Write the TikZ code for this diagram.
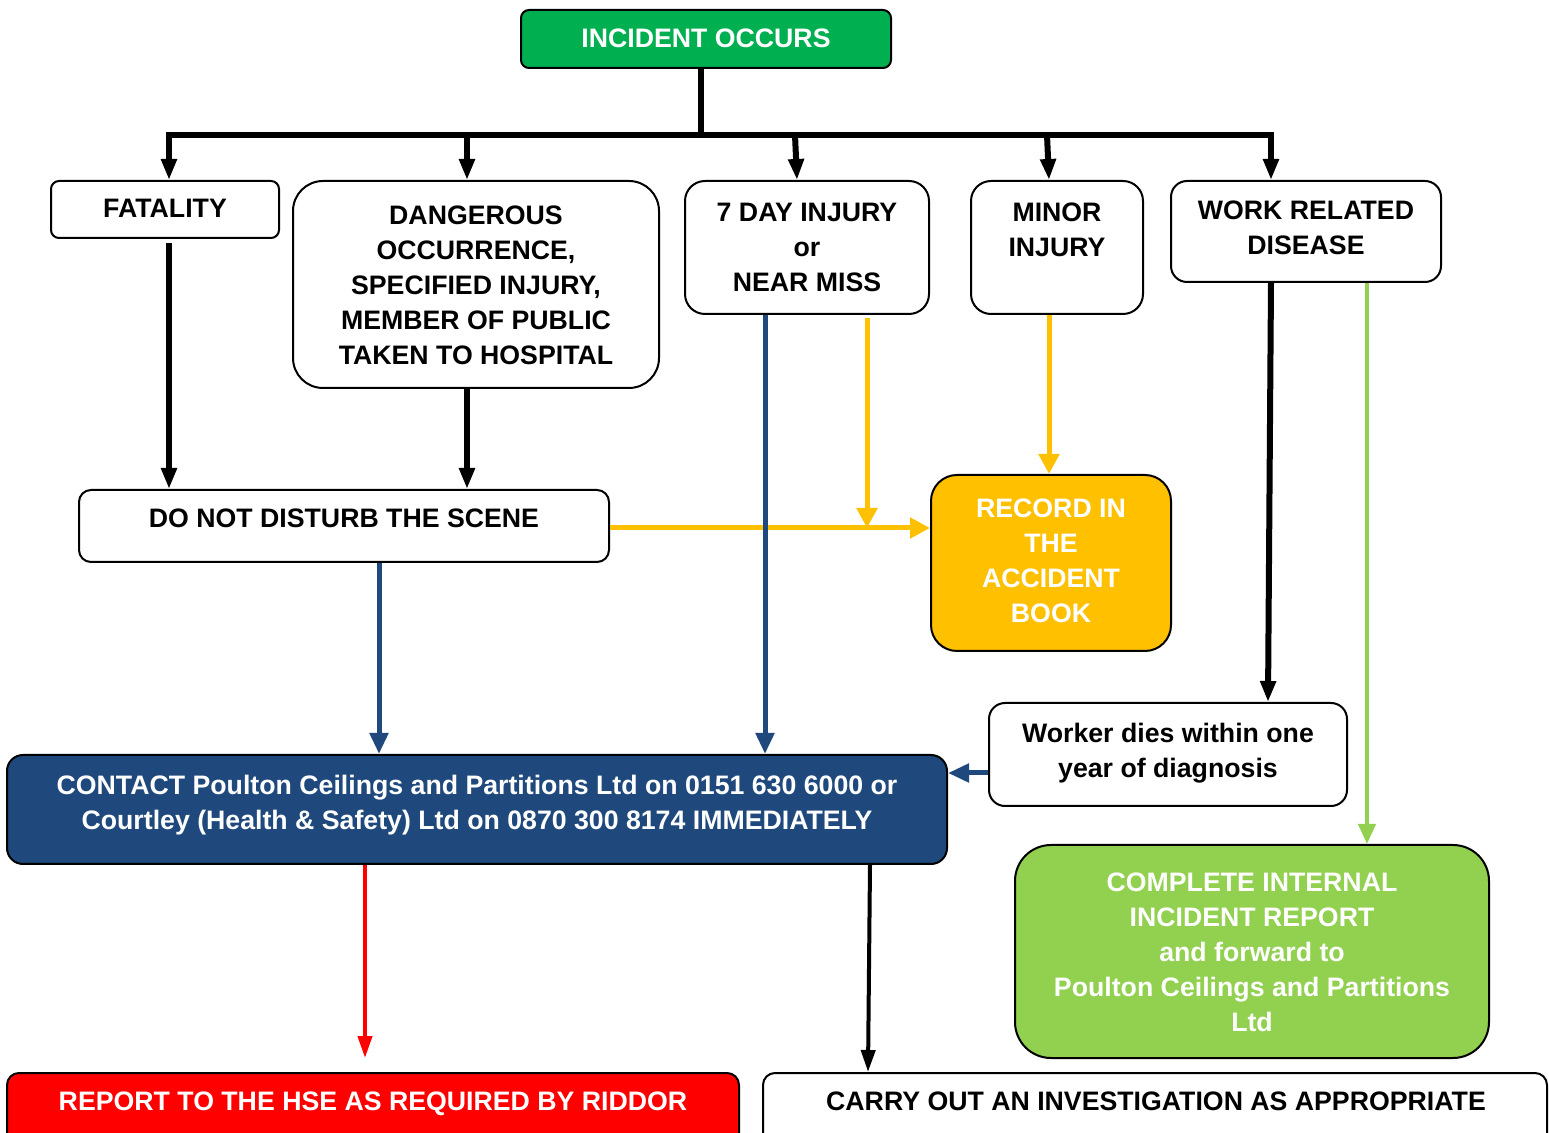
\documentclass[tikz,border=0pt]{standalone}
\usepackage{fontspec}
\setmainfont{Liberation Sans}
\usetikzlibrary{arrows.meta,fit}
\definecolor{incgreen}{HTML}{00B050}
\definecolor{amber}{HTML}{FFC000}
\definecolor{navy}{HTML}{1F497D}
\definecolor{lgreen}{HTML}{92D050}
\definecolor{hsered}{HTML}{FF0000}
\begin{document}
\begin{tikzpicture}[x=0.5pt,y=-0.5pt,
  box/.style={draw=black,line width=1pt,inner sep=0pt,rounded corners=#1},
  box/.default=4pt,
  txt/.style={inner sep=0pt,align=center,anchor=base,font=\bfseries\fontsize{13.35}{17.5}\selectfont},
  wtxt/.style={txt,text=white},
  blk/.style={line width=3pt,-{Triangle[width=7.5pt,length=10.5pt]}},
  ylw/.style={draw=amber,line width=2.5pt,-{Triangle[width=10pt,length=10pt]}},
  blu/.style={draw=navy,line width=2.5pt,-{Triangle[width=9pt,length=10.5pt]}},
  grn/.style={draw=lgreen,line width=2pt,-{Triangle[width=8.5pt,length=10pt]}},
  thin/.style={line width=2pt,-{Triangle[width=7pt,length=11pt]}},
]
\useasboundingbox (0,0) rectangle (1549,1133);
\clip (0,0) rectangle (1549,1133);
\fill[white] (0,0) rectangle (1549,1133);

% boxes
\node[box,fill=incgreen,fit={(521,10) (891,68)}] (inc) {};
\node[box,fit={(51,181) (279,238)}] (fat) {};
\node[box=15pt,fit={(293,181) (659,388)}] (dang) {};
\node[box=10pt,fit={(685,181) (929,314)}] (seven) {};
\node[box=10pt,fit={(971,181) (1143,314)}] (minor) {};
\node[box=8pt,fit={(1171,181) (1441,282)}] (work) {};
\node[box=6pt,fit={(79,490) (609,562)}] (dnd) {};
\node[box=13pt,fill=amber,fit={(931,475) (1171,651)}] (rec) {};
\node[box=8pt,fit={(989,703) (1347,806)}] (wdies) {};
\node[box=8pt,fill=navy,fit={(7,755) (947,864)}] (contact) {};
\node[box=18pt,fill=lgreen,fit={(1015,845) (1489,1058)}] (complete) {};
\node[box=6pt,fill=hsered,fit={(7,1073) (739,1160)}] (hse) {};
\node[box=6pt,fit={(763,1073) (1547,1160)}] (carry) {};

% texts (anchor=base is the baseline of the last line)
\node[wtxt] (incT) at (706,48) {INCIDENT OCCURS};
\node[txt] (fatT) at (165,218) {FATALITY};
\node[txt] (dangT) at (476,365) {DANGEROUS\\OCCURRENCE,\\SPECIFIED INJURY,\\MEMBER OF PUBLIC\\TAKEN TO HOSPITAL};
\node[txt] (sevenT) at (807,292) {7 DAY INJURY\\or\\NEAR MISS};
\node[txt] (minorT) at (1057,257) {MINOR\\INJURY};
\node[txt] (workT) at (1306,255) {WORK RELATED\\DISEASE};
\node[txt] (dndT) at (344,528) {DO NOT DISTURB THE SCENE};
\node[wtxt] (recT) at (1051,623) {RECORD IN\\THE\\ACCIDENT\\BOOK};
\node[txt] (wdiesT) at (1168,778) {Worker dies within one\\year of diagnosis};
\node[wtxt] (contactT) at (477,830) {CONTACT Poulton Ceilings and Partitions Ltd on 0151 630 6000 or\\Courtley (Health \& Safety) Ltd on 0870 300 8174 IMMEDIATELY};
\node[wtxt] (completeT) at (1252,1031) {COMPLETE INTERNAL\\INCIDENT REPORT\\and forward to\\Poulton Ceilings and Partitions\\Ltd};
\node[wtxt] (hseT) at (373,1110) {REPORT TO THE HSE AS REQUIRED BY RIDDOR};
\node[txt] (carryT) at (1156,1110) {CARRY OUT AN INVESTIGATION AS APPROPRIATE};

% tree from incident
\coordinate (trunk) at (701,135);
\coordinate (busL) at (169,135);
\coordinate (busR) at (1271,135);
\draw[line width=3pt] (701,0 |- inc.south) -- (trunk);
\draw[line width=3pt,line cap=rect] (busL) -- (busR);
\draw[blk] (busL) -- (169,0 |- fat.north);
\draw[blk] (467,135) -- (467,0 |- dang.north);
\draw[blk] (795,135) -- (797,0 |- seven.north);
\draw[blk] (1047,135) -- (1049,0 |- minor.north);
\draw[blk] (busR) -- (1271,0 |- work.north);

% second level
\draw[blk] (169,243) -- (169,0 |- dnd.north);
\draw[blk] (467,0 |- dang.south) -- (467,0 |- dnd.north);
\coordinate (yj) at (867,528);
\draw[ylw] (dnd.east |- yj) -- (rec.west |- yj);
\draw[ylw] (867,318) -- (yj);
\draw[ylw] (1049,0 |- minor.south) -- (1049,0 |- rec.north);
\draw[blu] (765,0 |- seven.south) -- (765,0 |- contact.north);
\draw[blu] (379,0 |- dnd.south) -- (379,0 |- contact.north);
\draw[blk] (1271,0 |- work.south) -- (1268,0 |- wdies.north);
\draw[grn] (1367,0 |- work.south) -- (1367,0 |- complete.north);
\draw[blu] (wdies.west |- 0,773) -- (contact.east |- 0,773);
\draw[thin,draw=hsered,-{Triangle[width=7pt,length=11pt,fill=hsered]}] (365,0 |- contact.south) -- (365,1058);
\draw[thin] (870,0 |- contact.south) -- (868,0 |- carry.north);
\end{tikzpicture}
\end{document}
